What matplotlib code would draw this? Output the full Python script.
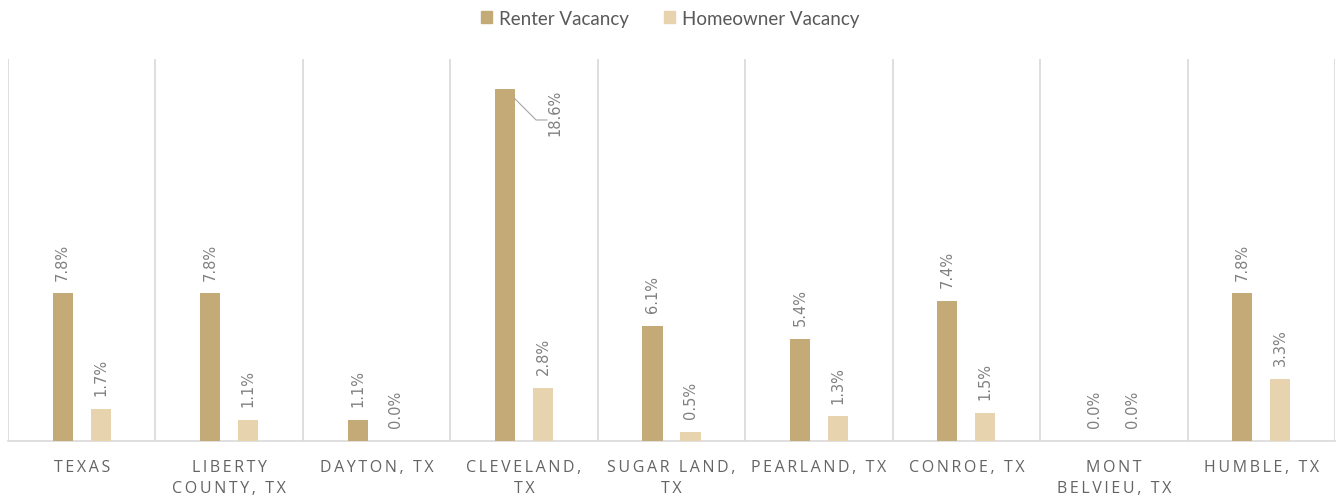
import numpy as np
import matplotlib.pyplot as plt
from matplotlib.patches import Patch

categories = ['TEXAS', 'LIBERTY\nCOUNTY, TX', 'DAYTON, TX', 'CLEVELAND,\nTX', 'SUGAR LAND,\nTX',
              'PEARLAND, TX', 'CONROE, TX', 'MONT\nBELVIEU, TX', 'HUMBLE, TX']
renter = [7.8, 7.8, 1.1, 18.6, 6.1, 5.4, 7.4, 0.0, 7.8]
homeowner = [1.7, 1.1, 0.0, 2.8, 0.5, 1.3, 1.5, 0.0, 3.3]

RENTER_C = '#C4AA76'
HOME_C = '#E7D4AF'
GRID_C = '#D9D9D9'
LABEL_C = '#808080'


def spaced(s):
    # wide letter spacing on the category labels
    return '\n'.join('\u2009'.join(line) for line in s.split('\n'))


fig = plt.figure(figsize=(13.4, 5.02), dpi=100)
ax = fig.add_axes([8/1340, 1-442/502, 1327/1340, 382/502])

n = len(categories)
x = np.arange(n)
w = 0.136
off = 0.129
ax.bar(x - off, renter, w, color=RENTER_C, zorder=3)
ax.bar(x + off, homeowner, w, color=HOME_C, zorder=3)

ax.set_xlim(-0.5, n - 0.5)
ax.set_ylim(0, 20.2)

for sp in ['top', 'left', 'right']:
    ax.spines[sp].set_visible(False)
ax.spines['bottom'].set_color(GRID_C)
ax.spines['bottom'].set_linewidth(1.2)
for b in np.arange(n + 1) - 0.5:
    ax.axvline(b, color=GRID_C, lw=1.2, zorder=1)

ax.set_yticks([])
ax.set_xticks(x)
ax.set_xticklabels([spaced(c) for c in categories], fontsize=11.5, color='#646464',
                   family='Open Sans', linespacing=1.45, va='top')
ax.tick_params(axis='x', length=0, pad=13)

lab_kw = dict(rotation=90, ha='center', fontsize=10.5, color=LABEL_C, family='DejaVu Sans')
for i in range(n):
    for xi, v in ((x[i] - off, renter[i]), (x[i] + off, homeowner[i])):
        txt = f'{v:.1f}%'
        if v > 15:
            # label pulled to the right of the tall bar with a leader line
            ax.annotate(txt, xy=(xi, v), xytext=(36, -16), textcoords='offset points',
                        va='center', **lab_kw)
            ax.annotate('', xy=(xi + 0.06, v - 0.45), xytext=(24, -16),
                        textcoords=('offset points'),
                        arrowprops=dict(arrowstyle='-', color='#A6A6A6', lw=0.8,
                                        shrinkA=0, shrinkB=0,
                                        connectionstyle='angle,angleA=180,angleB=-45,rad=0'))
        else:
            ax.annotate(txt, xy=(xi, v), xytext=(0, 10), textcoords='offset points',
                        va='bottom', **lab_kw)

handles = [Patch(color=RENTER_C, label='Renter Vacancy'),
           Patch(color=HOME_C, label='Homeowner Vacancy')]
fig.legend(handles=handles, loc='upper center', bbox_to_anchor=(0.5, 1.012), ncol=2,
           frameon=False, prop={'family': 'Lato', 'size': 13.5}, labelcolor='#595959',
           handlelength=0.6, handleheight=0.6, handletextpad=0.35, columnspacing=1.9)

fig.savefig('out.png', dpi=100)
